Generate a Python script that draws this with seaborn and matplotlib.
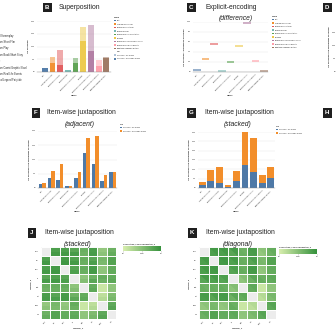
import numpy as np
import pandas as pd
import matplotlib
matplotlib.use("Agg")
import matplotlib.pyplot as plt
import seaborn as sns
from matplotlib.colors import LinearSegmentedColormap, Normalize
from matplotlib.collections import PolyCollection
from matplotlib.patches import Patch

# ---------------------------------------------------------------- data
genres = ["Cult", "Original Screenplay", "Based on Short Film", "Based on Play",
          "Based on Book/Short Story", "Remake", "Based on Comic/Graphic Novel",
          "Based on Real Life Events", "Traditional/Legend/Fairytale"]
us_gross = [140, 350, 290, 60, 350, 1230, 840, 250, 555]
worldwide_gross = [175, 605, 850, 80, 545, 1755, 1825, 470, 570]
genre_colors = ["#4e79a7", "#f28e2b", "#e15759", "#76b7b2", "#59a14f",
                "#edc948", "#b07aa1", "#ff9da7", "#9c755f"]
source_labels = ["Source by US Gross", "Source by Worldwide Gross"]
source_colors = ["#4e79a7", "#f28e2b"]
gross_ticks = [0, 500, 1000, 1500, 2000]
gross_tick_labels = ["0.0", "500", "1000", "1500", "2000"]
stack_ticks = [0, 500, 1000, 1500, 2000, 2500, 3000]
stack_tick_labels = ["0.0", "500", "1000", "1500", "2000", "2500", "3000"]
diff_ticks = [0, 200, 400, 600, 800, 1000]
diff_tick_labels = ["0.0", "200", "400", "600", "800", "1000"]

variables = ["mpg", "cyl", "disp", "hp", "drat", "wt", "qsec", "vs"]
nan = np.nan
correlation_1 = [
    [nan, .85, .85, .78, .68, .87, .42, .66],
    [.85, nan, .90, .83, .70, .78, .59, .81],
    [.85, .90, nan, .79, .71, .89, .43, .71],
    [.78, .83, .79, nan, .45, .66, .71, .72],
    [.68, .70, .71, .45, nan, .71, .09, .44],
    [.87, .78, .89, .66, .71, nan, .17, .55],
    [.42, .59, .43, .71, .09, .17, nan, .74],
    [.66, .81, .71, .72, .44, .55, .74, nan],
]
correlation_2 = [
    [nan, .91, .91, .89, .65, .89, .47, .71],
    [.91, nan, .93, .90, .68, .86, .57, .81],
    [.91, .93, nan, .85, .68, .90, .46, .72],
    [.89, .90, .85, nan, .52, .77, .67, .75],
    [.65, .68, .68, .52, nan, .75, .09, .45],
    [.89, .86, .90, .77, .75, nan, .23, .59],
    [.47, .57, .46, .67, .09, .23, nan, .79],
    [.71, .81, .72, .75, .45, .59, .79, nan],
]
cbar_ticks = [0.0, 0.5, 1.0]
cbar_tick_labels = ["0.0", "500m", "1.0"]

# ---------------------------------------------------------------- style
sns.set_theme(style="white")
plt.rcParams["font.family"] = ["Liberation Sans", "DejaVu Sans"]
TICK = 1.4
LAB = 1.6
TITLE = 4.9
GRID = "#e6e6e6"
AXIS = "#888888"

W = H = 336
fig = plt.figure(figsize=(3.36, 3.36), dpi=100)
fig.patch.set_facecolor("white")


def rect(x0, y0, x1, y1):
    return [x0 / W, 1 - y1 / H, (x1 - x0) / W, (y1 - y0) / H]


def letter_box(letter, bx, by):
    fig.text(bx / W, 1 - by / H, letter, color="white", fontsize=4.4,
             fontweight="bold", ha="left", va="center",
             bbox=dict(boxstyle="square,pad=0.35", fc="#1f1f1f", ec="none"))


def panel_title(letter, bx, by, line1, tx, line2=None, cx=None):
    letter_box(letter, bx, by)
    fig.text(tx / W, 1 - by / H, line1, fontsize=TITLE, ha="left",
             va="center", color="#222222")
    if line2 is not None:
        fig.text(cx / W, 1 - (by + 11) / H, line2, fontsize=TITLE,
                 ha="center", va="center", style="italic", color="#222222")


def style_bar_axes(ax, ticks, labels, ylabel, ymax):
    ax.set_ylim(0, ymax)
    ax.set_yticks(ticks)
    ax.set_yticklabels(labels, fontsize=TICK)
    ax.yaxis.grid(True, color=GRID, lw=0.3)
    ax.set_axisbelow(True)
    ax.tick_params(axis="both", length=0.8, width=0.2, pad=0.6, colors="#333333")
    ax.tick_params(axis="x", labelsize=TICK)
    plt.setp(ax.get_xticklabels(), rotation=45, ha="right",
             rotation_mode="anchor")
    for s in ["top", "right", "left"]:
        ax.spines[s].set_visible(False)
    ax.spines["bottom"].set_color(AXIS)
    ax.spines["bottom"].set_linewidth(0.3)
    ax.set_xlabel("Genre", fontsize=LAB, fontweight="bold", labelpad=1.5)
    ax.set_ylabel(ylabel, fontsize=LAB, fontweight="bold", labelpad=1.5)


def legend(handles, labels, x, y, title, bold_rows=(), size=1.4):
    leg = fig.legend(handles, labels, loc="upper left",
                     bbox_to_anchor=(x / W, 1 - y / H), frameon=False,
                     fontsize=size, title=title, title_fontsize=size + 0.1,
                     alignment="left", handlelength=0.9, handleheight=0.9,
                     handletextpad=0.6, labelspacing=0.95, borderpad=0,
                     borderaxespad=0)
    leg.get_title().set_fontweight("bold")
    for i in bold_rows:
        leg.get_texts()[i].set_fontweight("bold")
    return leg


df = pd.DataFrame({"Genre": genres, "US Gross": us_gross,
                   "Worldwide Gross": worldwide_gross})
df["Difference"] = df["Worldwide Gross"] - df["US Gross"]
df["Total"] = df["US Gross"] + df["Worldwide Gross"]
long_df = df.melt(id_vars="Genre", value_vars=["US Gross", "Worldwide Gross"],
                  var_name="Source", value_name="Gross")
long_df["Source"] = long_df["Source"].map(dict(zip(["US Gross", "Worldwide Gross"],
                                                   source_labels)))

genre_handles = [Patch(fc=c, ec="none") for c in genre_colors]
blank = Patch(fc="none", ec="none")
bar_kw = dict(saturation=1, errorbar=None, linewidth=0, edgecolor="none")

# ---------------------------------------------------------------- A (legend only)
legend(genre_handles, genres, -12, 21, "Genre", size=1.8)

# ---------------------------------------------------------------- B superposition
axB = fig.add_axes(rect(37, 21, 111, 72))
sns.barplot(df, x="Genre", y="Worldwide Gross", hue="Genre",
            palette=genre_colors, alpha=0.5, width=0.75, dodge=False,
            legend=False, ax=axB, **bar_kw)
sns.barplot(df, x="Genre", y="US Gross", hue="Genre", palette=genre_colors,
            alpha=0.9, width=0.75, dodge=False, legend=False, ax=axB, **bar_kw)
axB.set_xlim(-1.0, 8.6)
style_bar_axes(axB, gross_ticks, gross_tick_labels, "US Gross(M)", 2000)
panel_title("B", 45, 7.5, "Superposition", 59)
legend(genre_handles + [blank] + [Patch(fc="#4e79a7", alpha=0.45, ec="none"),
                                  Patch(fc="#4e79a7", alpha=0.95, ec="none")],
       genres + ["Hue"] + source_labels, 114, 17, "Genre", bold_rows=(9,))

# ---------------------------------------------------------------- C difference
axC = fig.add_axes(rect(193, 22, 268, 72))
sns.scatterplot(df, x="Genre", y="Difference", hue="Genre",
                palette=genre_colors, marker="_", s=28, linewidth=1.1,
                alpha=0.75, legend=False, ax=axC)
axC.set_xlim(-0.5, 8.5)
style_bar_axes(axC, diff_ticks, diff_tick_labels,
               "US Gross(M) - Worldwide Gross(M)", 1000)
panel_title("C", 189, 7.5, "Explicit-encoding", 205, "(difference)", 236)
legend(genre_handles, genres, 272, 16, "Genre")

# ---------------------------------------------------------------- D (cut at edge)
axD = fig.add_axes(rect(338, 22, 400, 72))
sns.barplot(df, x="Genre", y="Worldwide Gross", color=source_colors[1],
            ax=axD, **bar_kw)
axD.set_ylim(0, 1900)
axD.set_yticks([0, 500, 1000, 1500])
axD.set_yticklabels(["0.0", "500", "1000", "1500"], fontsize=TICK)
axD.set_xticks([])
axD.set_xlabel("")
axD.tick_params(axis="y", length=0.8, width=0.2, pad=0.6)
axD.set_ylabel("US Gross(M) and Worldwide Gross(M)", fontsize=LAB,
               fontweight="bold", labelpad=1.5)
for s in axD.spines.values():
    s.set_visible(False)
letter_box("D", 325, 7.5)

# ---------------------------------------------------------------- F adjacent
src_handles = [Patch(fc=c, ec="none") for c in source_colors]
axF = fig.add_axes(rect(38, 131, 117, 188))
sns.barplot(long_df, x="Genre", y="Gross", hue="Source",
            palette=source_colors, width=0.8, legend=False, ax=axF, **bar_kw)
axF.set_xlim(-0.5, 8.5)
style_bar_axes(axF, gross_ticks, gross_tick_labels,
               "US Gross(M) and Worldwide Gross(M)", 2000)
panel_title("F", 34, 113, "Item-wise juxtaposition", 47, "(adjacent)", 80)
legend(src_handles, source_labels, 120, 124, "Hue")

# ---------------------------------------------------------------- G stacked
axG = fig.add_axes(rect(198, 132, 275, 188))
sns.barplot(df, x="Genre", y="Total", color=source_colors[1], width=0.8,
            ax=axG, **bar_kw)
sns.barplot(df, x="Genre", y="US Gross", color=source_colors[0], width=0.8,
            ax=axG, **bar_kw)
axG.set_xlim(-0.5, 8.5)
style_bar_axes(axG, stack_ticks, stack_tick_labels,
               "US Gross(M) and Worldwide Gross(M)", 3000)
panel_title("G", 189, 113, "Item-wise juxtaposition", 205, "(stacked)", 238)
legend(src_handles, source_labels, 276, 126, "Hue")

letter_box("H", 325, 113)

# ---------------------------------------------------------------- heatmaps
cmap = LinearSegmentedColormap.from_list("greens", ["#d8eeae", "#35913c"])
norm = Normalize(0, 1)
c1 = np.array(correlation_1, dtype=float)
c2 = np.array(correlation_2, dtype=float)
n = len(variables)


def style_heat(ax, cax, rows_per_cell):
    ax.set_facecolor("#ececec")
    ax.hlines(np.arange(0, rows_per_cell * n + 1, rows_per_cell), 0, n,
              color="white", lw=0.7)
    ax.vlines(np.arange(n + 1), 0, rows_per_cell * n, color="white", lw=0.7)
    ax.set_xticks(np.arange(n) + 0.5)
    ax.set_xticklabels(variables, fontsize=TICK)
    ax.set_yticks(np.arange(n) * rows_per_cell + rows_per_cell / 2)
    ax.set_yticklabels(variables, fontsize=TICK, rotation=0)
    plt.setp(ax.get_xticklabels(), rotation=45, ha="right",
             rotation_mode="anchor")
    ax.tick_params(length=0.8, width=0.2, pad=0.8)
    ax.set_xlabel("Variable_1", fontsize=LAB, fontweight="bold", labelpad=2)
    ax.set_ylabel("Variable_2", fontsize=LAB, fontweight="bold", labelpad=2)
    cax.set_xticks(cbar_ticks)
    cax.set_xticklabels(cbar_tick_labels, fontsize=TICK)
    cax.tick_params(length=0.6, width=0.2, pad=0.5)
    cax.set_title("Correlation_1 and Correlation_2", fontsize=1.5,
                  fontweight="bold", loc="left", pad=1)
    for s in cax.spines.values():
        s.set_visible(False)


# J: each cell split into an upper and a lower half
axJ = fig.add_axes(rect(41, 247, 116, 319))
caxJ = fig.add_axes(rect(123, 246, 161, 251))
stacked = np.stack([c1, c2], axis=1).reshape(2 * n, n)
sns.heatmap(stacked, ax=axJ, cmap=cmap, vmin=0, vmax=1, cbar_ax=caxJ,
            cbar_kws={"orientation": "horizontal"}, xticklabels=False,
            yticklabels=False)
style_heat(axJ, caxJ, 2)
panel_title("J", 30, 233, "Item-wise juxtaposition", 45, "(stacked)", 78)

# K: each cell split along its diagonal
axK = fig.add_axes(rect(199, 247, 276, 319))
caxK = fig.add_axes(rect(279, 249, 317, 254))
sns.heatmap(c1, ax=axK, cmap=cmap, vmin=0, vmax=1, cbar_ax=caxK,
            cbar_kws={"orientation": "horizontal"}, xticklabels=False,
            yticklabels=False)
tris, vals = [], []
for i in range(n):
    for j in range(n):
        if not np.isnan(c2[i, j]):
            tris.append([(j, i), (j + 1, i), (j + 1, i + 1)])
            vals.append(c2[i, j])
pc = PolyCollection(tris, array=np.array(vals), cmap=cmap, norm=norm,
                    edgecolors="none")
axK.add_collection(pc)
style_heat(axK, caxK, 1)
panel_title("K", 190, 233, "Item-wise juxtaposition", 206, "(diagonal)", 238)

fig.savefig("out.png", dpi=100, facecolor="white")
